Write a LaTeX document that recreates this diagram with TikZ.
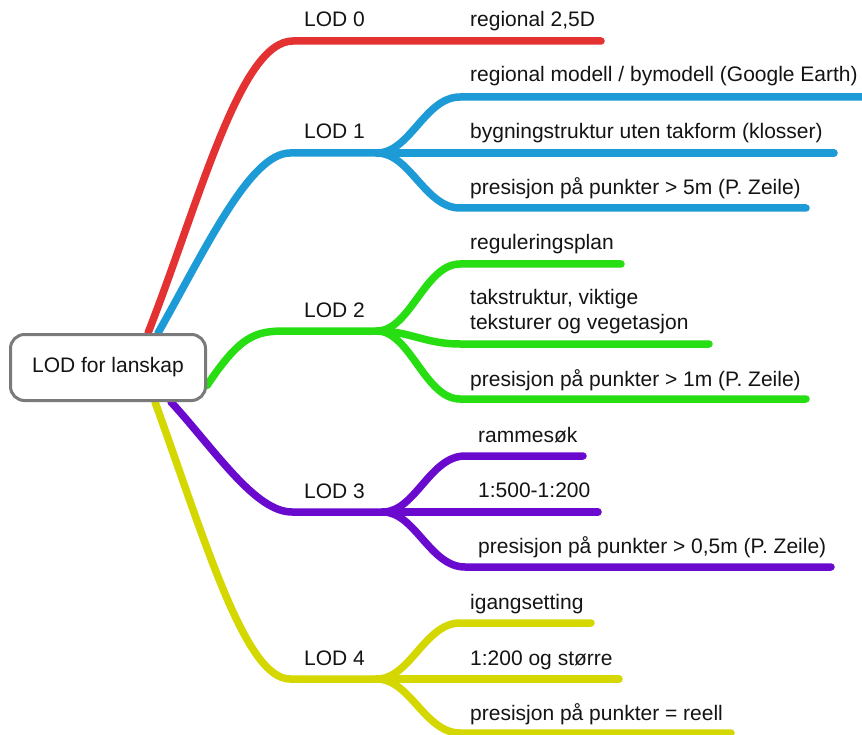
\documentclass[tikz,border=0pt]{standalone}
\usepackage{fontspec}
\setmainfont{Liberation Sans}
\definecolor{cred}{RGB}{228,50,50}
\definecolor{cblue}{RGB}{28,155,215}
\definecolor{cgreen}{RGB}{38,222,18}
\definecolor{cpurple}{RGB}{106,10,206}
\definecolor{cyellow}{RGB}{212,216,0}
\definecolor{cgray}{RGB}{122,122,122}
\definecolor{ctext}{RGB}{20,20,20}
\pgfdeclarelayer{bg}
\pgfsetlayers{bg,main}
\begin{document}
\begin{tikzpicture}[x=1pt,y=-1pt,
  branch/.style={line width=7.5pt,line cap=round,line join=round},
  lbl/.style={anchor=base west,inner sep=0pt,font=\fontsize{21}{25}\selectfont,text=ctext},
  rootbox/.style={draw=cgray,line width=3pt,fill=white,rounded corners=14pt,
    minimum width=195pt,minimum height=66pt,inner sep=0pt,
    font=\fontsize{21}{25}\selectfont,text=ctext}]
\useasboundingbox (0,0) rectangle (862,735);

% root
\node[rootbox] (root) at (108,367.5) {LOD for lanskap};

% branch points and start points
\coordinate (s0) at ([xshift=40pt]root.north);
\coordinate (s1) at ([xshift=50pt]root.north);
\coordinate (s2) at ([yshift=-18pt]root.east);
\coordinate (s3) at ([xshift=63pt]root.south);
\coordinate (s4) at ([xshift=47pt]root.south);
\coordinate (b0) at (293,41);
\coordinate (b1) at (377,153);
\coordinate (b2) at (377,331);
\coordinate (b3) at (383,512);
\coordinate (b4) at (377,679);

% free ends
\coordinate (e0) at (601,41);
\coordinate (e11) at (862,97);
\coordinate (e12) at (834,153);
\coordinate (e13) at (806,208);
\coordinate (e21) at (621,264);
\coordinate (e22) at (709,344);
\coordinate (e23) at (806,399);
\coordinate (e31) at (583,456);
\coordinate (e32) at (598,512);
\coordinate (e33) at (831,567);
\coordinate (e41) at (591,623);
\coordinate (e42) at (619,679);
\coordinate (e43) at (731,733);

% labels
\node[lbl] (lod0) at (304,27) {LOD 0};
\node[lbl] (lod1) at (304,139) {LOD 1};
\node[lbl] (lod2) at (304,317) {LOD 2};
\node[lbl] (lod3) at (304,498) {LOD 3};
\node[lbl] (lod4) at (304,665) {LOD 4};

\node[lbl] (t0) at (470,27) {regional 2,5D};
\node[lbl] (t11) at (470,82) {regional modell / bymodell (Google Earth)};
\node[lbl] (t12) at (470,139) {bygningstruktur uten takform (klosser)};
\node[lbl] (t13) at (470,195) {presisjon på punkter > 5m (P. Zeile)};
\node[lbl] (t21) at (470,250) {reguleringsplan};
\node[lbl] (t22) at (470,305) {\begin{tabular}[t]{@{}l@{}}takstruktur, viktige\\teksturer og vegetasjon\end{tabular}};
\node[lbl] (t23) at (470,386) {presisjon på punkter > 1m (P. Zeile)};
\node[lbl] (t31) at (478,442) {rammesøk};
\node[lbl] (t32) at (478,497) {1:500-1:200};
\node[lbl] (t33) at (478,553) {presisjon på punkter > 0,5m (P. Zeile)};
\node[lbl] (t41) at (470,609) {igangsetting};
\node[lbl] (t42) at (470,665) {1:200 og større};
\node[lbl] (t43) at (470,720) {presisjon på punkter = reell};

\begin{pgfonlayer}{bg}
\fill[white] (0,0) rectangle (862,735);
% LOD 0
\draw[branch,cred] (s0) .. controls (200,200) and (240,41) .. (b0) -- (e0);
% LOD 1
\draw[branch,cblue] (s1) .. controls (205,250) and (250,153) .. (290,153) -- (b1);
\draw[branch,cblue] (b1) .. controls (410,153) and (425,97) .. (460,97) -- (e11);
\draw[branch,cblue] (b1) -- (e12);
\draw[branch,cblue] (b1) .. controls (410,153) and (425,208) .. (460,208) -- (e13);
% LOD 2
\draw[branch,cgreen] (s2) .. controls (240,336) and (255,331) .. (285,331) -- (b2);
\draw[branch,cgreen] (b2) .. controls (410,331) and (425,264) .. (460,264) -- (e21);
\draw[branch,cgreen] (b2) .. controls (410,331) and (425,344) .. (460,344) -- (e22);
\draw[branch,cgreen] (b2) .. controls (410,331) and (425,399) .. (460,399) -- (e23);
% LOD 3
\draw[branch,cpurple] (s3) .. controls (215,450) and (255,512) .. (292,512) -- (b3);
\draw[branch,cpurple] (b3) .. controls (415,512) and (430,456) .. (465,456) -- (e31);
\draw[branch,cpurple] (b3) -- (e32);
\draw[branch,cpurple] (b3) .. controls (415,512) and (430,567) .. (465,567) -- (e33);
% LOD 4
\draw[branch,cyellow] (s4) .. controls (205,540) and (245,679) .. (290,679) -- (b4);
\draw[branch,cyellow] (b4) .. controls (410,679) and (425,623) .. (460,623) -- (e41);
\draw[branch,cyellow] (b4) -- (e42);
\draw[branch,cyellow] (b4) .. controls (410,679) and (425,733) .. (460,733) -- (e43);
\end{pgfonlayer}
\end{tikzpicture}
\end{document}
